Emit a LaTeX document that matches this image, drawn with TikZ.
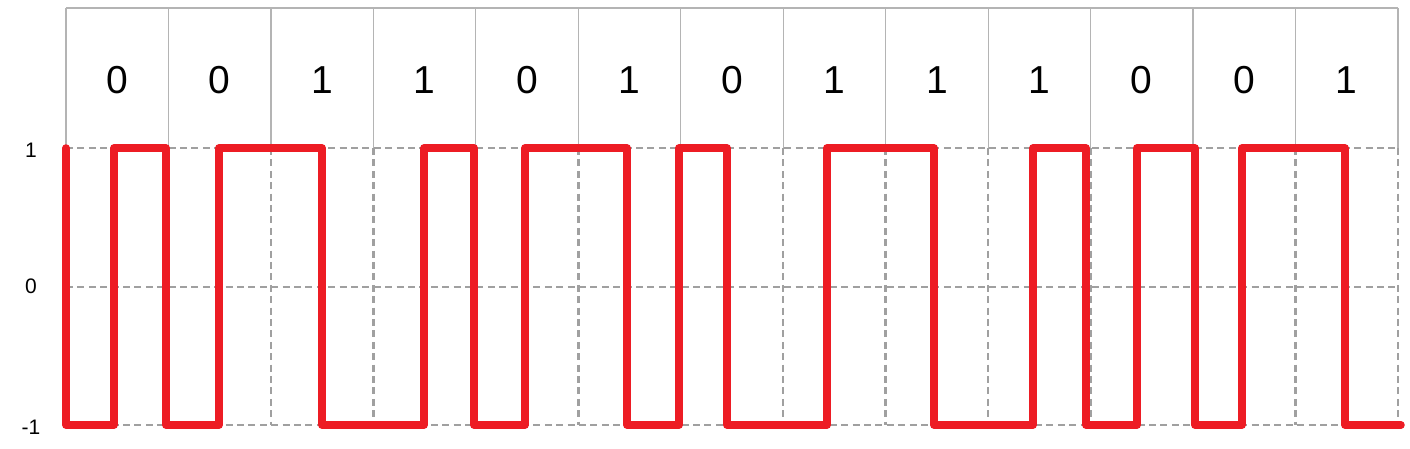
\documentclass[tikz,border=0pt]{standalone}
\usepackage{fontspec}
\setmainfont{Liberation Sans}
\definecolor{sigred}{HTML}{ED1C24}
\definecolor{gridgray}{HTML}{A0A0A0}
\definecolor{cellgray}{HTML}{B4B4B4}
\begin{document}
\begin{tikzpicture}[x=0.5pt,y=-0.5pt,
  cell/.style={cellgray,line width=0.6pt},
  guide/.style={gridgray,line width=1.25pt,dash pattern=on 3.5pt off 2.2pt},
  signal/.style={sigred,line width=3.75pt,line cap=round,line join=round},
  bitlabel/.style={font=\fontsize{19.5}{20}\selectfont},
  levellabel/.style={font=\fontsize{10.5}{12}\selectfont}]
\useasboundingbox (0,0) rectangle (1410,449);
\draw[cell] (66,8) -- (1398,8);
\foreach \i in {0,...,13}{
  \draw[cell] (66+102.46*\i,8) -- (66+102.46*\i,148);
  \draw[guide] (66+102.46*\i,148) -- (66+102.46*\i,425);}
\foreach \y in {148,287,425} \draw[guide] (66,\y) -- (1398,\y);
\foreach \b [count=\i from 0] in {0,0,1,1,0,1,0,1,1,1,0,0,1}
  \node[bitlabel] (bit\i) at (117.2+102.46*\i,80) {\b};
\foreach \v/\y [count=\i] in {1/150,0/286,-1/427}
  \node[levellabel] (lvl\i) at (31,\y) {\v};
\draw[signal] (66,148) |- (114,425) |- (166,148) |- (219,425) |- (322,148)
  |- (424,425) |- (474,148) |- (525,425) |- (627,148) |- (679,425)
  |- (727,148) |- (827,425) |- (934,148) |- (1033,425) |- (1086,148)
  |- (1137,425) |- (1195,148) |- (1242,425) |- (1345,148) |- (1401,425);
\end{tikzpicture}
\end{document}
